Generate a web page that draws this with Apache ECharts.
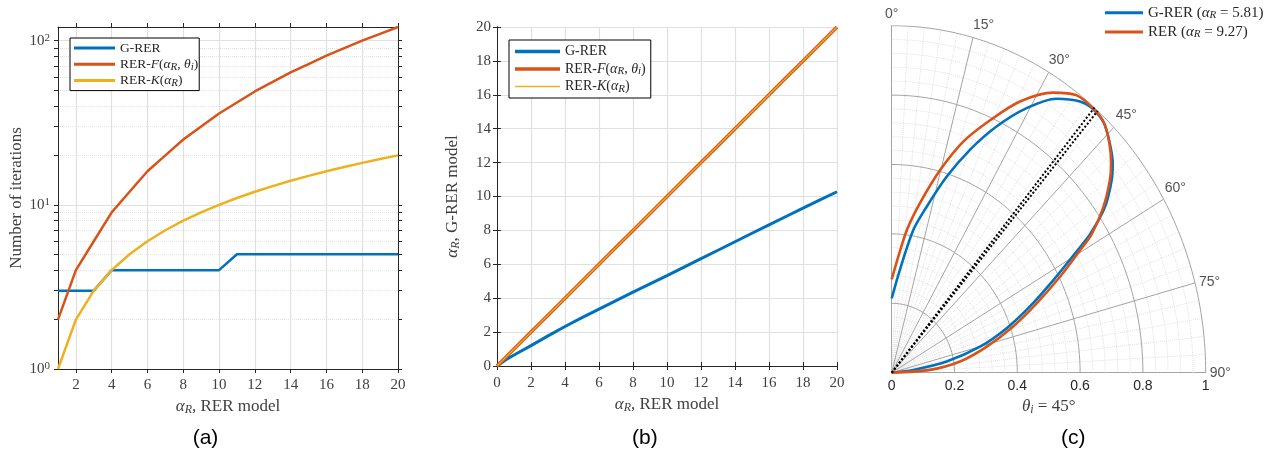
<!DOCTYPE html>
<html><head><meta charset="utf-8">
<script src="https://cdn.jsdelivr.net/npm/echarts@6/dist/echarts.min.js"></script>
<style>html,body{margin:0;padding:0;background:#fff}#c{width:1272px;height:457px}</style>
</head><body><div id="c"></div>
<script>
// ---------- Panel (a): iterations vs alpha_R (log scale) ----------
const alphaA = [1,2,3,4,5,6,7,8,9,10,11,12,13,14,15,16,17,18,19,20];
const iterGRER = [3,3,3,4,4,4,4,4,4,4,5,5,5,5,5,5,5,5,5,5];
const iterRERF = [2,4,6,9,12,16,20,25,30,36,42,49,56,64,72,81,90,100,110,121];
const iterRERK = [1,2,3,4,5,6,7,8,9,10,11,12,13,14,15,16,17,18,19,20];
const xTicksA = [2,4,6,8,10,12,14,16,18,20];
const yTicksA = [1,2,3,4,5,6,7,8,9,10,20,30,40,50,60,70,80,90,100];
const yLabelsA = [1,10,100];

// ---------- Panel (b): G-RER alpha vs RER alpha ----------
const alphaB = [0,0.5,1,2,3,4,5,6,7,8,9,10,11,12,13,14,15,16,17,18,19,20];
const gAlphaB = [0,0.35,0.65,1.2,1.78,2.33,2.85,3.36,3.86,4.36,4.85,5.33,5.83,6.33,6.83,7.33,7.83,8.33,8.82,9.31,9.8,10.28];
const fAlphaB = [0,0.5,1,2,3,4,5,6,7,8,9,10,11,12,13,14,15,16,17,18,19,20];
const kAlphaB = [0,0.5,1,2,3,4,5,6,7,8,9,10,11,12,13,14,15,16,17,18,19,20];

// ---------- Panel (c): polar lobes (theta from vertical, deg; radius) ----------
const gTheta = [0,5.0,9.5,13.1,17.2,21.2,25.2,29.4,33.6,37.5,40.2,43.2,46.4,49.4,51.6,54.9,57.7,59.5,62.6,66.6,70.7,75.1,79.6,83.4,90];
const gR     = [0.214,0.297,0.417,0.491,0.591,0.689,0.784,0.875,0.948,0.985,0.994,0.987,0.959,0.927,0.894,0.830,0.748,0.678,0.580,0.479,0.388,0.291,0.178,0.069,0];
const rTheta = [0,3.6,6.7,10.4,14.8,18.9,23.3,27.6,32.5,36.4,40.1,43.0,46.1,49.2,51.4,54.7,57.9,59.5,62.7,66.6,71.0,76.1,81.6,86.2,90];
const rR     = [0.269,0.335,0.414,0.496,0.604,0.704,0.792,0.882,0.957,0.993,0.996,0.989,0.961,0.923,0.889,0.826,0.752,0.697,0.603,0.503,0.409,0.312,0.220,0.122,0];
const peakTheta = [40.2,41.0];
const peakR = [1.0,1.0];
const angleTicks = [0,15,30,45,60,75,90];
const ringMajor = [0.2,0.4,0.6,0.8];
const ringOuter = 1;
const ringStep = 0.04;
const spokeMinorStep = 3;

const BLUE='#0072BD', ORANGE='#D95319', YELLOW='#EDB120';
const SERIF="'Liberation Serif','DejaVu Serif',serif";
const SANS="'Liberation Sans',Arial,Helvetica,sans-serif";
const AX='#262626', GRIDC='#e0e0e0', PGRID='#a3a3a3', PMINOR='#e0e0e0';
const rich = {
  it:{fontStyle:'italic',fontFamily:SERIF},
  sub:{fontStyle:'italic',fontFamily:SERIF,fontSize:11,lineHeight:11,verticalAlign:'bottom'},
  sup:{fontFamily:SERIF,fontSize:11,lineHeight:11,verticalAlign:'top'}
};
const legendText = {
  aG:'G-RER', aF:'RER-{it|F}({it|α}{sub|R}, {it|θ}{sub|i})', aK:'RER-{it|K}({it|α}{sub|R})',
  bG:'G-RER', bF:'RER-{it|F}({it|α}{sub|R}, {it|θ}{sub|i})', bK:'RER-{it|K}({it|α}{sub|R})',
  cG:'G-RER ({it|α}{sub|R} = 5.81)', cR:'RER ({it|α}{sub|R} = 9.27)'
};

const zip = (xs, ys) => xs.map((x,i)=>[x, ys[i]]);
const rad = d => d*Math.PI/180;
const polarPts = (th, r) => th.map((t,i)=>[r[i]*Math.sin(rad(t)), r[i]*Math.cos(rad(t))]);

function arcPts(r){ const th=[], rr=[]; for(let a=0;a<=90;a+=1){th.push(a); rr.push(r);} return polarPts(th, rr); }
function spokePts(a){ return polarPts([a,a],[0,1]); }

const series = [];
function gridLine(data, color, type, width){
  series.push({type:'line', xAxisIndex:4, yAxisIndex:5, data, symbol:'none', silent:true, z:1,
    lineStyle:{color, type, width}});
}
for (let k=1;k<25;k++){ const r=+(k*ringStep).toFixed(2); if (k%5!==0) gridLine(arcPts(r), PMINOR, 'dotted', 1); }
for (let a=spokeMinorStep;a<90;a+=spokeMinorStep){ if (a%15!==0) gridLine(spokePts(a), PMINOR, 'dotted', 1); }
ringMajor.forEach(r=>gridLine(arcPts(r), PGRID, 'solid', 1));
gridLine(arcPts(ringOuter), PGRID, 'solid', 1);
angleTicks.filter(a=>a>0&&a<90).forEach(a=>gridLine(spokePts(a), PGRID, 'solid', 1));

// panel (a)
series.push({name:'aG', type:'line', xAxisIndex:0, yAxisIndex:0, data:zip(alphaA, iterGRER), symbol:'none', lineStyle:{color:BLUE,width:2.5}, itemStyle:{color:BLUE}, z:3});
series.push({name:'aF', type:'line', xAxisIndex:0, yAxisIndex:0, data:zip(alphaA, iterRERF), symbol:'none', lineStyle:{color:ORANGE,width:2.5}, itemStyle:{color:ORANGE}, z:3});
series.push({name:'aK', type:'line', xAxisIndex:0, yAxisIndex:0, data:zip(alphaA, iterRERK), symbol:'none', lineStyle:{color:YELLOW,width:2.5}, itemStyle:{color:YELLOW}, z:3});
// panel (b)
series.push({name:'bG', type:'line', xAxisIndex:2, yAxisIndex:3, data:zip(alphaB, gAlphaB), symbol:'none', lineStyle:{color:BLUE,width:3}, itemStyle:{color:BLUE}, z:3});
series.push({name:'bF', type:'line', xAxisIndex:2, yAxisIndex:3, data:zip(alphaB, fAlphaB), symbol:'none', lineStyle:{color:ORANGE,width:3.5}, itemStyle:{color:ORANGE}, z:3});
series.push({name:'bK', type:'line', xAxisIndex:2, yAxisIndex:3, data:zip(alphaB, kAlphaB), symbol:'none', lineStyle:{color:YELLOW,width:1.3}, itemStyle:{color:YELLOW}, z:4});
// panel (c)
series.push({name:'cG', type:'line', xAxisIndex:4, yAxisIndex:5, data:polarPts(gTheta,gR), smooth:0.3, symbol:'none', lineStyle:{color:BLUE,width:2.6}, itemStyle:{color:BLUE}, z:3});
series.push({name:'cR', type:'line', xAxisIndex:4, yAxisIndex:5, data:polarPts(rTheta,rR), smooth:0.3, symbol:'none', lineStyle:{color:ORANGE,width:2.6}, itemStyle:{color:ORANGE}, z:3});
peakTheta.forEach((t,i)=>{
  series.push({type:'line', xAxisIndex:4, yAxisIndex:5, data:polarPts([t,t],[0,peakR[i]]), symbol:'none', silent:true, z:5,
    lineStyle:{color:'#000', type:'dotted', width:2}});
});
const angleLabelPos = {0:['center','bottom',[0,-5]],15:['left','bottom',[0,-5]],30:['left','bottom',[0,-5]],45:['left','bottom',[2,-5]],60:['left','bottom',[1,-4]],75:['left','middle',[4,-1]],90:['left','middle',[4,0]]};
series.push({type:'scatter', xAxisIndex:4, yAxisIndex:5, symbolSize:0, silent:true, z:6,
  data: angleTicks.map(a=>{ const p=polarPts([a],[1])[0]; const s=angleLabelPos[a];
    return {value:p, label:{show:true, formatter:a+'°', position:s[2], align:s[0], verticalAlign:s[1], fontFamily:SANS, fontSize:14, color:AX}}; })
});

const tickOut = {show:true, inside:false, length:4, lineStyle:{color:AX}};
const axLine = {show:true, lineStyle:{color:AX, width:1}};
const serifLabel = {fontFamily:SERIF, fontSize:15, color:'#404040'};
const nameStyle = {fontFamily:SERIF, fontSize:17, color:'#404040', lineHeight:18, rich:{
  it:{fontStyle:'italic',fontFamily:SERIF,fontSize:17},
  sub:{fontStyle:'italic',fontFamily:SERIF,fontSize:12,lineHeight:12,verticalAlign:'bottom'}}};

const option = {
  animation:false,
  backgroundColor:'#fff',
  grid:[
    {left:58, top:27, width:340, height:342},
    {left:497, top:27, width:340, height:339},
    {left:891.7, top:25.7, width:314, height:347}
  ],
  xAxis:[
    {gridIndex:0, type:'value', min:1, max:20, position:'bottom',
      axisLine:axLine, axisTick:Object.assign({customValues:xTicksA}, tickOut),
      axisLabel:Object.assign({customValues:xTicksA, margin:9}, serifLabel),
      splitLine:{show:true, lineStyle:{color:GRIDC, width:1.2}},
      name:'{it|α}{sub|R}, RER model', nameLocation:'middle', nameGap:28, nameTextStyle:nameStyle},
    {gridIndex:0, type:'value', min:1, max:20, position:'top',
      axisLine:axLine, axisTick:Object.assign({customValues:xTicksA}, tickOut), axisLabel:{show:false}, splitLine:{show:false}},
    {gridIndex:1, type:'value', min:0, max:20, interval:2, position:'bottom',
      axisLine:axLine, axisTick:tickOut, axisLabel:Object.assign({margin:10}, serifLabel),
      splitLine:{show:true, lineStyle:{color:GRIDC, width:1.2}},
      name:'{it|α}{sub|R}, RER model', nameLocation:'middle', nameGap:29, nameTextStyle:nameStyle},
    {gridIndex:1, type:'value', min:0, max:20, interval:2, position:'top',
      axisLine:axLine, axisTick:tickOut, axisLabel:{show:false}, splitLine:{show:false}},
    {gridIndex:2, type:'value', min:0, max:1, interval:0.2, position:'bottom',
      axisLine:{show:true, lineStyle:{color:PGRID}}, axisTick:{show:false},
      axisLabel:{fontFamily:SANS, fontSize:14, color:AX, margin:6},
      splitLine:{show:false},
      name:'{it|θ}{sub|i} = 45°', nameLocation:'middle', nameGap:25, nameTextStyle:nameStyle}
  ],
  yAxis:[
    {gridIndex:0, type:'log', logBase:10, min:1, max:121, position:'left',
      axisLine:axLine, axisTick:Object.assign({customValues:yTicksA}, tickOut),
      axisLabel:Object.assign({customValues:yLabelsA, margin:8,
        formatter:v=>'10{sup|'+Math.round(Math.log10(v))+'}', rich, lineHeight:16}, serifLabel),
      splitLine:{show:true, lineStyle:{color:'#e3e3e3', type:'dotted', width:1}},
      name:'Number of iterations', nameLocation:'middle', nameGap:33, nameRotate:90,
      nameTextStyle:{fontFamily:SERIF, fontSize:17, color:'#404040'}},
    {gridIndex:0, type:'log', logBase:10, min:1, max:121, position:'right',
      axisLine:axLine, axisTick:Object.assign({customValues:yTicksA}, tickOut), axisLabel:{show:false}, splitLine:{show:false}},
    {gridIndex:0, type:'log', logBase:10, min:1, max:121, position:'left',
      axisLine:{show:false}, axisTick:{show:false, customValues:yLabelsA}, axisLabel:{show:false},
      splitLine:{show:true, lineStyle:{color:GRIDC, width:1.2}}},
    {gridIndex:1, type:'value', min:0, max:20, interval:2, position:'left',
      axisLine:axLine, axisTick:tickOut, axisLabel:Object.assign({margin:6}, serifLabel),
      splitLine:{show:true, lineStyle:{color:GRIDC, width:1.2}},
      name:'{it|α}{sub|R}, G-RER model', nameLocation:'middle', nameGap:35, nameRotate:90, nameTextStyle:nameStyle},
    {gridIndex:1, type:'value', min:0, max:20, interval:2, position:'right',
      axisLine:axLine, axisTick:tickOut, axisLabel:{show:false}, splitLine:{show:false}},
    {gridIndex:2, type:'value', min:0, max:1, position:'left',
      axisLine:{show:true, lineStyle:{color:PGRID}}, axisTick:{show:false}, axisLabel:{show:false}, splitLine:{show:false}}
  ],
  legend:[
    {data:['aG','aF','aK'], orient:'vertical', left:70, top:38, padding:[2,1,2,4], itemGap:0.3,
      icon:'rect', itemWidth:41, itemHeight:3, backgroundColor:'#fff', borderColor:'#000', borderWidth:1, selectedMode:false,
      formatter:n=>legendText[n], textStyle:{fontFamily:SERIF, fontSize:13.5, color:'#262626', lineHeight:16, rich}},
    {data:['bG','bF',{name:'bK', icon:'path://M0,0H45V1.3H0Z'}], orient:'vertical', left:509, top:40, padding:[3.5,5,3.5,6], itemGap:1.5,
      icon:'rect', itemWidth:45, itemHeight:3.5, backgroundColor:'#fff', borderColor:'#000', borderWidth:1, selectedMode:false,
      formatter:n=>legendText[n], textStyle:{fontFamily:SERIF, fontSize:14, color:'#262626', lineHeight:16, rich}},
    {data:['cG','cR'], orient:'vertical', left:1105, top:4.7, padding:0, itemGap:3.3,
      icon:'rect', itemWidth:38, itemHeight:3, selectedMode:false,
      formatter:n=>legendText[n], textStyle:{fontFamily:SERIF, fontSize:15, color:'#262626', lineHeight:16, rich}}
  ],
  graphic:[
    {type:'text', left:206.7-14, top:428, style:{text:'(a)', font:'21px '+SANS, fill:'#000'}},
    {type:'text', left:646-14, top:428, style:{text:'(b)', font:'21px '+SANS, fill:'#000'}},
    {type:'text', left:1075-14, top:428, style:{text:'(c)', font:'21px '+SANS, fill:'#000'}}
  ],
  series
};
const chart = echarts.init(document.getElementById('c'));
chart.setOption(option);
</script></body></html>
